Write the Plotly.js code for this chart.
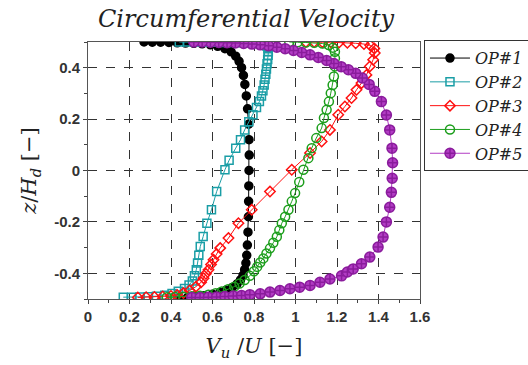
<!DOCTYPE html>
<html>
<head>
<meta charset="utf-8">
<script src="https://cdn.plot.ly/plotly-3.0.1.min.js"></script>
<style>
  html, body { margin: 0; padding: 0; background: #fff; }
  #chart { width: 528px; height: 365px; }
</style>
</head>
<body>
<div id="chart"></div>
<script>
// Circumferential velocity profiles V_u/U over the normalised height z/H_d
// for five operating points (wall-clustered samples).

const seriesNames = ['OP#1', 'OP#2', 'OP#3', 'OP#4', 'OP#5'];

// OP#1
const op1Z = [-0.496, -0.494, -0.491, -0.487, -0.482, -0.475, -0.466, -0.455, -0.442, -0.426,
  -0.408, -0.386, -0.36, -0.33, -0.29, -0.24, -0.18, -0.12, -0.06, 0.0,
  0.06, 0.12, 0.18, 0.24, 0.29, 0.335, 0.37, 0.40, 0.425, 0.445,
  0.462, 0.474, 0.483, 0.489, 0.493, 0.495, 0.496, 0.497, 0.498, 0.499, 0.499, 0.5];
const op1V = [0.44, 0.48, 0.52, 0.56, 0.60, 0.635, 0.665, 0.695, 0.718, 0.735,
  0.747, 0.755, 0.761, 0.765, 0.768, 0.771, 0.773, 0.774, 0.775, 0.776,
  0.777, 0.776, 0.774, 0.769, 0.763, 0.756, 0.749, 0.74, 0.728, 0.712,
  0.69, 0.66, 0.625, 0.59, 0.55, 0.51, 0.47, 0.43, 0.39, 0.35, 0.31, 0.27];

// OP#2
const op2Z = [-0.493, -0.493, -0.492, -0.491, -0.489, -0.485, -0.479, -0.470, -0.459, -0.446,
  -0.43, -0.41, -0.386, -0.36, -0.33, -0.296, -0.257, -0.205, -0.153, -0.082,
  0.003, 0.04, 0.087, 0.12, 0.158, 0.19, 0.217, 0.245, 0.268, 0.29,
  0.31, 0.333, 0.355, 0.375, 0.395, 0.415, 0.432, 0.448, 0.462, 0.474,
  0.484, 0.49, 0.494, 0.496, 0.497, 0.498, 0.498, 0.499, 0.499, 0.5, 0.5, 0.5];
const op2V = [0.17, 0.21, 0.25, 0.29, 0.33, 0.37, 0.405, 0.435, 0.465, 0.487,
  0.503, 0.513, 0.522, 0.528, 0.534, 0.541, 0.555, 0.573, 0.595, 0.62,
  0.66, 0.68, 0.712, 0.735, 0.755, 0.775, 0.795, 0.812, 0.826, 0.836,
  0.843, 0.849, 0.853, 0.857, 0.86, 0.863, 0.866, 0.868, 0.869, 0.868,
  0.862, 0.84, 0.80, 0.76, 0.72, 0.68, 0.64, 0.60, 0.56, 0.52, 0.48, 0.44];

// OP#3
const op3Z = [-0.494, -0.493, -0.492, -0.49, -0.488, -0.484, -0.477, -0.467, -0.452, -0.435,
  -0.419, -0.402, -0.386, -0.366, -0.347, -0.325, -0.302, -0.263, -0.205, -0.153,
  -0.082, 0.003, 0.068, 0.113, 0.158, 0.217, 0.249, 0.282, 0.314, 0.34,
  0.372, 0.405, 0.431, 0.457, 0.475, 0.487, 0.492, 0.495, 0.497, 0.498,
  0.499, 0.499, 0.5, 0.5];
const op3V = [0.24, 0.28, 0.32, 0.36, 0.40, 0.43, 0.46, 0.49, 0.52, 0.545,
  0.557, 0.568, 0.581, 0.593, 0.605, 0.62, 0.637, 0.677, 0.725, 0.789,
  0.877, 0.982, 1.07, 1.126, 1.166, 1.206, 1.238, 1.27, 1.294, 1.318,
  1.342, 1.358, 1.374, 1.382, 1.38, 1.36, 1.33, 1.29, 1.25, 1.21,
  1.17, 1.13, 1.09, 1.05];

// OP#4
const op4Z = [-0.493, -0.492, -0.491, -0.489, -0.487, -0.483, -0.478, -0.471, -0.462, -0.452,
  -0.44, -0.426, -0.41, -0.392, -0.375, -0.358, -0.342, -0.323, -0.303, -0.281,
  -0.258, -0.232, -0.205, -0.18, -0.153, -0.12, -0.088, -0.045, 0.003, 0.048,
  0.087, 0.126, 0.165, 0.204, 0.236, 0.268, 0.301, 0.333, 0.366, 0.405,
  0.437, 0.462, 0.478, 0.488, 0.494, 0.497, 0.498, 0.499, 0.5];
const op4V = [0.38, 0.42, 0.46, 0.50, 0.54, 0.58, 0.615, 0.645, 0.675, 0.705,
  0.73, 0.755, 0.78, 0.80, 0.815, 0.83, 0.845, 0.86, 0.877, 0.893,
  0.91, 0.922, 0.934, 0.95, 0.966, 0.982, 0.998, 1.018, 1.038, 1.062,
  1.078, 1.10, 1.126, 1.137, 1.15, 1.161, 1.17, 1.179, 1.185, 1.19,
  1.19, 1.19, 1.18, 1.16, 1.13, 1.09, 1.05, 1.01, 0.97];

// OP#5
const op5Z = [-0.494, -0.494, -0.493, -0.492, -0.49, -0.488, -0.486, -0.483, -0.48, -0.473,
  -0.467, -0.46, -0.454, -0.447, -0.435, -0.422, -0.41, -0.395, -0.383, -0.363,
  -0.337, -0.298, -0.259, -0.2, -0.143, -0.085, -0.03, 0.03, 0.087, 0.158,
  0.216, 0.268, 0.308, 0.335, 0.36, 0.378, 0.392, 0.404, 0.416, 0.428,
  0.44, 0.45, 0.459, 0.467, 0.474, 0.48, 0.485, 0.489, 0.492, 0.494,
  0.496, 0.497, 0.498, 0.499, 0.5, 0.5];
const op5V = [0.50, 0.54, 0.58, 0.62, 0.66, 0.70, 0.74, 0.78, 0.83, 0.877,
  0.925, 0.973, 1.02, 1.07, 1.118, 1.166, 1.222, 1.25, 1.278, 1.318,
  1.358, 1.398, 1.422, 1.438, 1.454, 1.462, 1.466, 1.468, 1.465, 1.454,
  1.438, 1.414, 1.382, 1.355, 1.322, 1.29, 1.255, 1.22, 1.185, 1.15,
  1.11, 1.07, 1.03, 0.99, 0.95, 0.91, 0.87, 0.83, 0.79, 0.75,
  0.71, 0.67, 0.63, 0.59, 0.55, 0.51];

const xTicks = [0, 0.2, 0.4, 0.6, 0.8, 1, 1.2, 1.4, 1.6];
const xTickText = ['0', '0.2', '0.4', '0.6', '0.8', '1', '1.2', '1.4', '1.6'];
const yTicks = [-0.4, -0.2, 0, 0.2, 0.4];
const yTickText = ['-0.4', '-0.2', '0', '0.2', '0.4'];

const styles = [
  { color: '#000000', symbol: 'circle', size: 8, fill: '#000000', lineColor: '#000000' },
  { color: '#1a9ea6', symbol: 'square-open', size: 8, fill: '#1a9ea6', lineColor: '#1a9ea6' },
  { color: '#ff1010', symbol: 'diamond-open', size: 8, fill: '#ff1010', lineColor: '#ff1010' },
  { color: '#1c9e1c', symbol: 'circle-open', size: 9, fill: '#1c9e1c', lineColor: '#1c9e1c' },
  { color: '#b23cc4', symbol: 'circle-cross', size: 10, fill: '#b23cc4', lineColor: '#8a1c9c' }
];

const seriesV = [op1V, op2V, op3V, op4V, op5V];
const seriesZ = [op1Z, op2Z, op3Z, op4Z, op5Z];

const traces = seriesNames.map((name, i) => ({
  type: 'scatter',
  mode: 'lines+markers',
  name: name,
  x: seriesV[i],
  y: seriesZ[i],
  line: { color: styles[i].color, width: 1 },
  marker: {
    symbol: styles[i].symbol,
    size: styles[i].size,
    color: styles[i].fill,
    line: { color: styles[i].lineColor, width: 1.5 }
  }
}));

const tickFont = { family: 'Liberation Sans, Arial, sans-serif', size: 15, color: '#333333', weight: 'bold' };
const serif = 'DejaVu Serif, serif';

const layout = {
  width: 528,
  height: 365,
  margin: { l: 88, r: 108, t: 42, b: 66 },
  paper_bgcolor: '#ffffff',
  plot_bgcolor: '#ffffff',
  title: {
    text: '<i>Circumferential Velocity</i>',
    font: { family: serif, size: 24, color: '#222222' },
    xref: 'container', x: 0.466, xanchor: 'center',
    yref: 'container', y: 0.95, yanchor: 'middle'
  },
  xaxis: {
    range: [0, 1.6],
    tickmode: 'array', tickvals: xTicks, ticktext: xTickText,
    tickfont: tickFont,
    ticks: 'outside', ticklen: 4, tickcolor: '#444',
    minor: { dtick: 0.1, ticks: 'outside', ticklen: 3, tickcolor: '#444', showgrid: false },
    showgrid: true, gridcolor: '#333333', griddash: 'dash', gridwidth: 1,
    showline: true, mirror: true, linecolor: '#555555', linewidth: 1,
    zeroline: false,
    title: {
      text: '<i>V</i><sub><i>u</i></sub> /<i>U</i> [\u2212]',
      font: { family: serif, size: 21, color: '#222222' },
      standoff: 14
    }
  },
  yaxis: {
    range: [-0.5, 0.5],
    tickmode: 'array', tickvals: yTicks, ticktext: yTickText,
    tickfont: tickFont,
    ticks: 'outside', ticklen: 4, tickcolor: '#444',
    minor: { dtick: 0.1, ticks: 'outside', ticklen: 3, tickcolor: '#444', showgrid: false },
    showgrid: true, gridcolor: '#333333', griddash: 'dash', gridwidth: 1,
    showline: true, mirror: true, linecolor: '#555555', linewidth: 1,
    zeroline: false,
    title: {
      text: '<i>z</i>/<i>H</i><sub><i>d</i></sub> [\u2212]',
      font: { family: serif, size: 21, color: '#222222' },
      standoff: 11
    }
  },
  showlegend: true,
  legend: {
    xref: 'container', x: 0.803, xanchor: 'left',
    yref: 'container', y: 0.89, yanchor: 'top',
    bgcolor: '#ffffff',
    bordercolor: '#333333', borderwidth: 1,
    font: { family: serif, size: 16, color: '#222222', style: 'italic' },
    itemwidth: 40,
    tracegroupgap: 0
  }
};

Plotly.newPlot('chart', traces, layout, { staticPlot: true, displayModeBar: false });
</script>
</body>
</html>
